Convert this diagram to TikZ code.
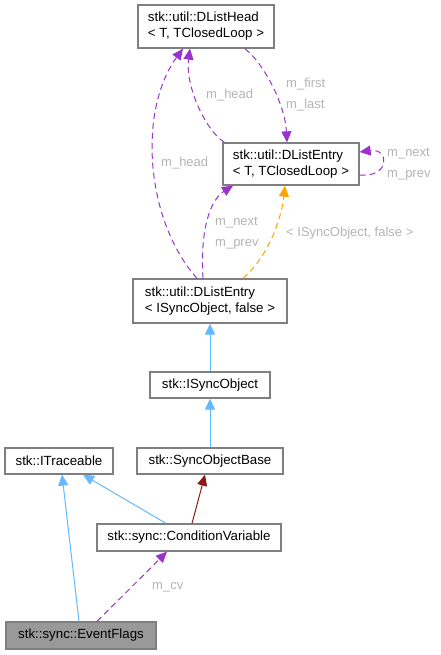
\documentclass[tikz,border=0pt]{standalone}
\usepackage{fontspec}
\setmainfont{Liberation Sans}
\usepackage{xcolor}
\usetikzlibrary{arrows.meta}

\definecolor{boxline}{HTML}{7F7F7F}
\definecolor{flagfill}{HTML}{999999}
\definecolor{pubblue}{HTML}{63B8FF}
\definecolor{usepurple}{HTML}{9A32CD}
\definecolor{tplorange}{HTML}{FFA500}
\definecolor{protred}{HTML}{8B1A1A}
\definecolor{lblgray}{HTML}{B4B4B4}

\tikzset{
	cls/.style={draw=boxline, fill=white, line width=1.3pt, align=left, inner sep=0pt,
		minimum height=26pt, font=\fontsize{13.3}{16}\selectfont},
	lbl/.style={text=lblgray, anchor=west, inner sep=0pt, font=\fontsize{13}{16}\selectfont},
	pub/.style={draw=pubblue, line width=1pt, -{Triangle[length=11pt,width=10pt]}},
	prot/.style={draw=protred, line width=1pt, -{Triangle[length=11pt,width=10pt]}},
	use/.style={draw=usepurple, line width=1pt, dash pattern=on 6pt off 4pt, -{Triangle[length=11pt,width=10pt]}},
	tpl/.style={draw=tplorange, line width=1pt, dash pattern=on 6pt off 4pt, -{Triangle[length=11pt,width=10pt]}}
}

\begin{document}
\begin{tikzpicture}[x=1pt,y=-1pt]
				\useasboundingbox (0,0) rectangle (440,655);

				% classes
				\node[cls, minimum width=136pt, minimum height=43pt] (head) at (206,26.5) {stk::util::DListHead\\< T, TClosedLoop >};
				\node[cls, minimum width=136pt, minimum height=42pt] (entryT) at (291,164) {stk::util::DListEntry\\< T, TClosedLoop >};
				\node[cls, minimum width=154pt, minimum height=44pt] (entryS) at (210,301) {stk::util::DListEntry\\< ISyncObject, false >};
				\node[cls, minimum width=120pt] (isync) at (210,385) {stk::ISyncObject};
				\node[cls, minimum width=146pt] (base) at (210,461) {stk::SyncObjectBase};
				\node[cls, minimum width=108pt] (trace) at (59,461) {stk::ITraceable};
				\node[cls, minimum width=184pt, minimum height=27pt] (condvar) at (189,537.5) {stk::sync::ConditionVariable};
				\node[cls, minimum width=150pt, minimum height=27pt, fill=flagfill] (flags) at (81,635.5) {stk::sync::EventFlags};

				% members
				\draw[use] ([xshift=-13pt]entryS.north) .. controls (145,220) and (138,110) .. ([xshift=-23pt]head.south);
				\node[lbl] (lhead1) at (161,163) {m\_head};
				\draw[use] ([xshift=2pt]entryT.north west) .. controls (205,130) and (185,85) .. ([xshift=-16pt]head.south);
				\node[lbl] (lhead2) at (206,95) {m\_head};
				\draw[use] ([xshift=39pt]head.south) .. controls (265,65) and (285,105) .. ([xshift=-4pt]entryT.north);
				\node[lbl] (lfirst) at (286,84) {m\_first};
				\node[lbl] (llast) at (286,105) {m\_last};
				\draw[use] ([yshift=-11pt]entryT.east) .. controls (390,178) and (390,148) .. ([yshift=12pt]entryT.east);
				\node[lbl] (lnext1) at (387,154) {m\_next};
				\node[lbl] (lprev1) at (387,175) {m\_prev};
				\draw[use] ([xshift=-7pt]entryS.north) .. controls (200,230) and (210,200) .. ([xshift=-58pt]entryT.south);
				\node[lbl] (lnext2) at (215,223) {m\_next};
				\node[lbl] (lprev2) at (215,244) {m\_prev};
				\draw[tpl] ([xshift=33pt]entryS.north) .. controls (270,255) and (282,215) .. ([xshift=-6pt]entryT.south);
				\node[lbl] (ltpl) at (286,233) {< ISyncObject, false >};

				% bases
				\draw[pub] (isync) -- (entryS);
				\draw[pub] (base) -- (isync);
				\draw[pub] ([xshift=-23pt]condvar.north) -- ([xshift=24pt]trace.south);
				\draw[prot] ([xshift=3pt]condvar.north) -- ([xshift=-5pt]base.south);
				\draw[pub] ([xshift=-2pt]flags.north) -- ([xshift=3pt]trace.south);
				\draw[use] ([xshift=16pt]flags.north) -- ([xshift=-22pt]condvar.south);
				\node[lbl] (lcv) at (152,587) {m\_cv};
			\end{tikzpicture}
\end{document}
